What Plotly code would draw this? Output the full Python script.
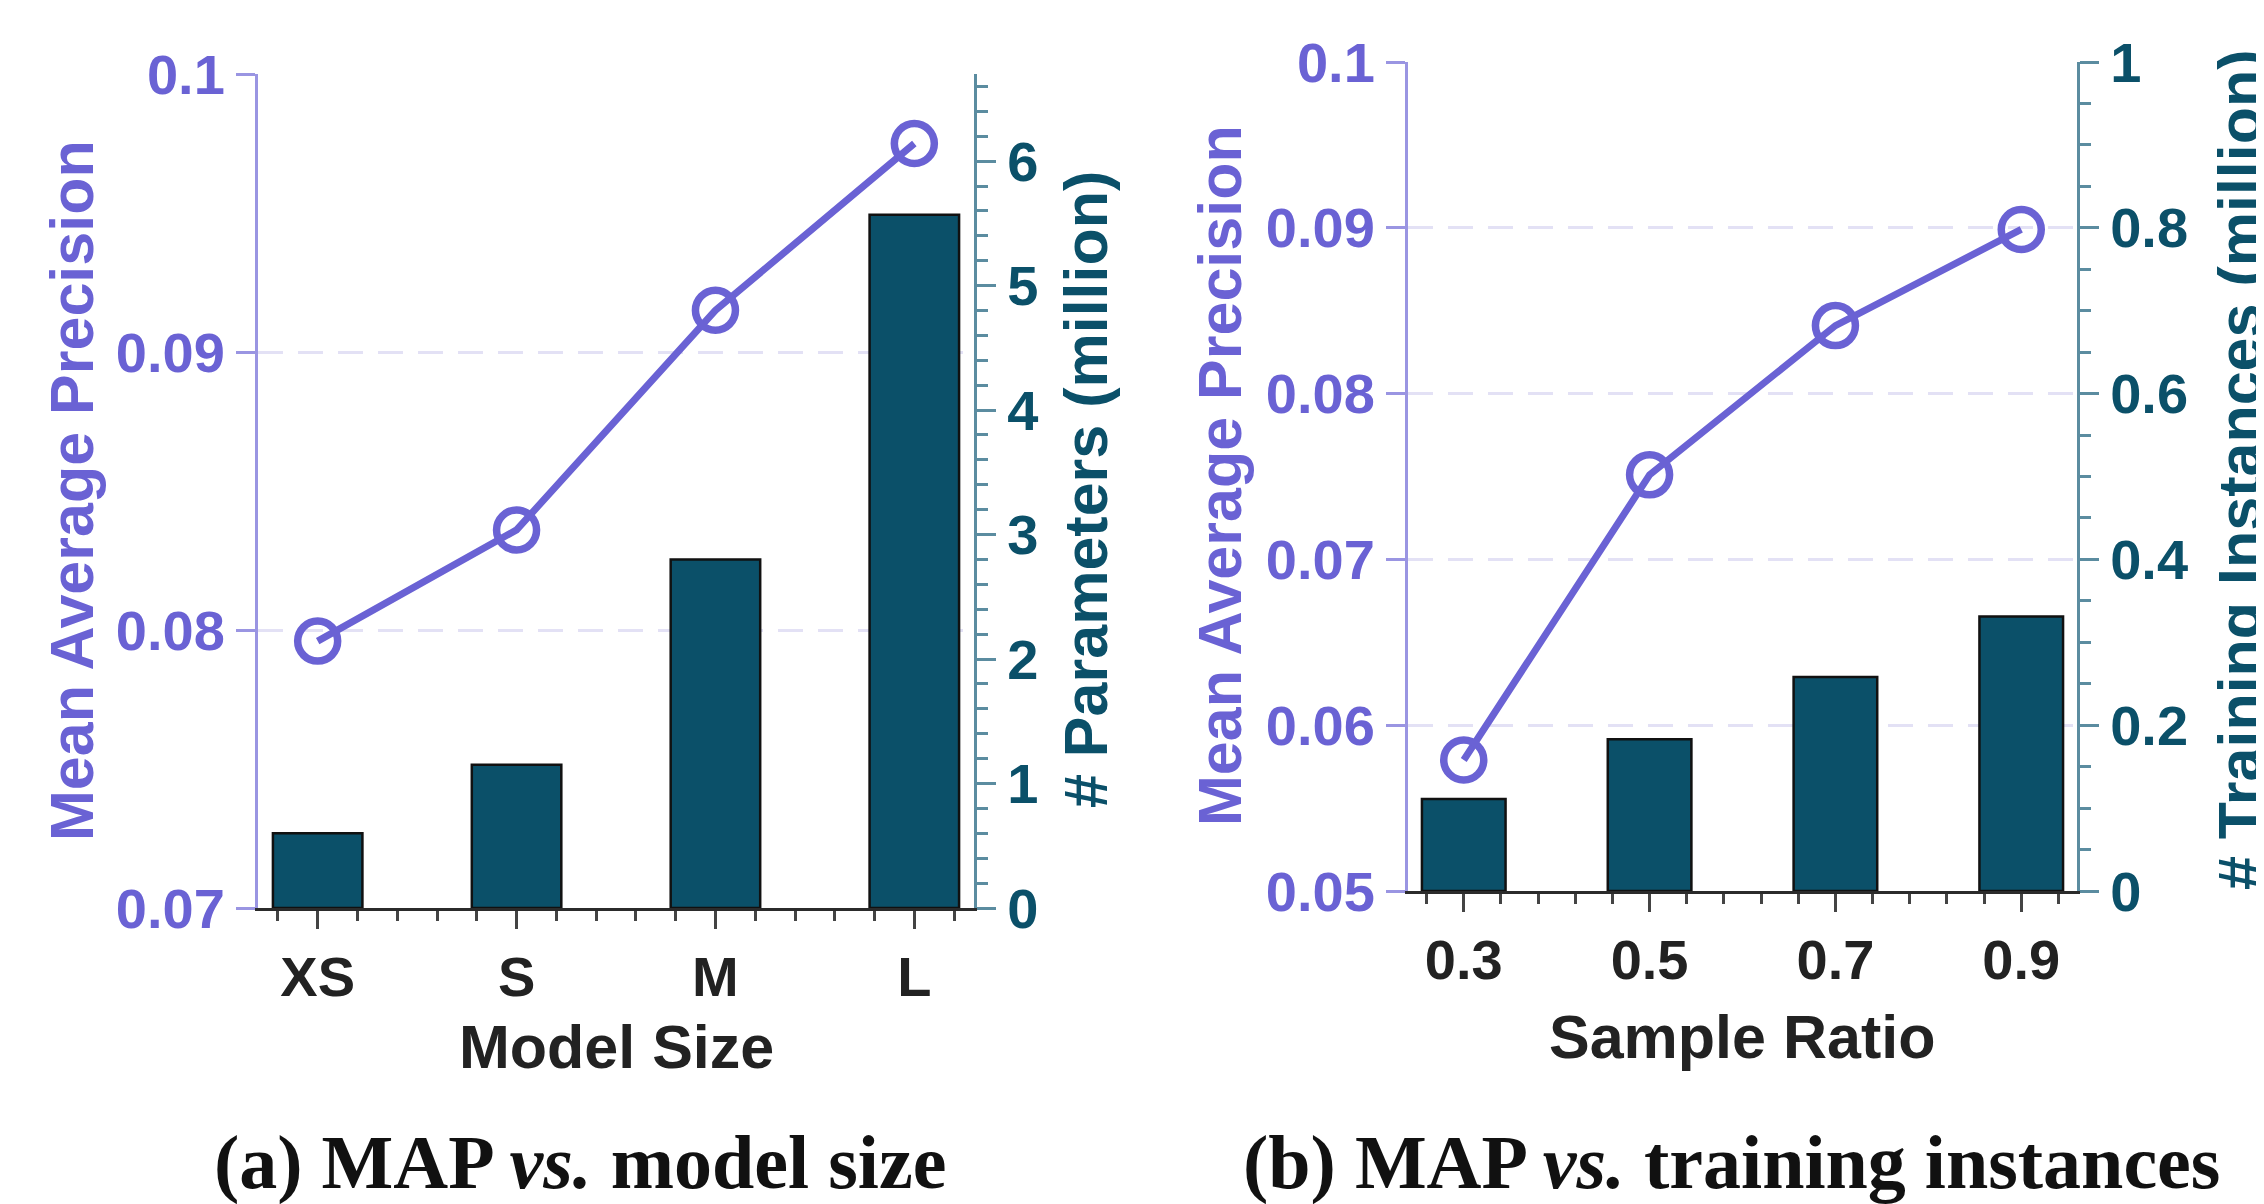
import plotly.graph_objects as go

# ---------------- data ----------------
size_cats = ["XS", "S", "M", "L"]
size_map = [0.0796, 0.0836, 0.0915, 0.0975]        # Mean Average Precision
size_params = [0.60, 1.15, 2.80, 5.57]             # # Parameters (million)

ratio_cats = ["0.3", "0.5", "0.7", "0.9"]
ratio_map = [0.0579, 0.0751, 0.0841, 0.0899]       # Mean Average Precision
ratio_inst = [0.111, 0.183, 0.258, 0.331]          # # Training Instances (million)

map_ticks_a = [0.07, 0.08, 0.09, 0.1]
map_ticks_b = [0.05, 0.06, 0.07, 0.08, 0.09, 0.1]
param_ticks = [0, 1, 2, 3, 4, 5, 6]
inst_ticks = [0, 0.2, 0.4, 0.6, 0.8, 1]

# ---------------- style ----------------
W, H = 2264, 1204
OFF = 8  # page body margin offset
PURPLE = "#6A62D4"
PURPLE_AX = "#9A95E2"
GRID = "#E3E1F5"
TEAL = "#0B5069"
TEAL_AX = "#5B8CA0"
DARK = "#222222"
SANS = "Liberation Sans, Arial, sans-serif"
SERIF = "Liberation Serif, Times New Roman, serif"
TICK_FS = 56
TITLE_FS = 61


def px(x):
    return (x - OFF) / W


def py(y):
    return 1 - (y - OFF) / H


idx_a = list(range(len(size_cats)))
idx_b = list(range(len(ratio_cats)))

LINE_STYLE = dict(color=PURPLE, width=7)
MARKER_STYLE = dict(symbol="circle-open", size=40, color=PURPLE,
                    line=dict(width=7.5, color=PURPLE))
BAR_STYLE = dict(color=TEAL, line=dict(color="#111111", width=2.5))

fig = go.Figure()

fig.add_trace(go.Bar(x=idx_a, y=size_params, width=0.45, xaxis="x", yaxis="y",
                     marker=BAR_STYLE, showlegend=False))
fig.add_trace(go.Scatter(x=idx_a, y=size_map, xaxis="x", yaxis="y2", mode="lines+markers",
                         line=LINE_STYLE, marker=MARKER_STYLE, showlegend=False))
fig.add_trace(go.Bar(x=idx_b, y=ratio_inst, width=0.45, xaxis="x2", yaxis="y3",
                     marker=BAR_STYLE, showlegend=False))
fig.add_trace(go.Scatter(x=idx_b, y=ratio_map, xaxis="x2", yaxis="y4", mode="lines+markers",
                         line=LINE_STYLE, marker=MARKER_STYLE, showlegend=False))


def xaxis_cfg(domain, anchor, cats):
    return dict(domain=domain, anchor=anchor, range=[-0.3, 3.3], automargin=False,
                tickmode="array", tickvals=list(range(len(cats))), ticktext=cats,
                ticks="outside", ticklen=18, tickwidth=3, tickcolor="#444444",
                showline=True, linecolor="#2b2b2b", linewidth=3,
                showgrid=False, zeroline=False,
                tickfont=dict(family=SANS, size=TICK_FS, color=DARK, weight="bold"),
                minor=dict(tickmode="linear", tick0=0, dtick=0.2, ticks="outside",
                           ticklen=10, tickwidth=2.5, tickcolor="#444444", showgrid=False))


def right_cfg(domain, anchor, rng, vals, mdt):
    return dict(domain=domain, anchor=anchor, side="right", range=rng, automargin=False,
                tickmode="array", tickvals=vals, ticktext=[f"{v:g}" for v in vals],
                ticks="outside", ticklen=19, tickwidth=3, tickcolor=TEAL_AX,
                showline=True, linecolor=TEAL_AX, linewidth=3,
                showgrid=False, zeroline=False,
                tickfont=dict(family=SANS, size=TICK_FS, color=TEAL, weight="bold"),
                minor=dict(tickmode="linear", tick0=0, dtick=mdt, ticks="outside",
                           ticklen=11, tickwidth=2.5, tickcolor=TEAL_AX, showgrid=False))


def left_cfg(over, anchor, rng, vals):
    return dict(overlaying=over, anchor=anchor, side="left", range=rng, automargin=False,
                tickmode="array", tickvals=vals, ticktext=[f"{v:g}" for v in vals],
                ticks="outside", ticklen=19, tickwidth=3, tickcolor=PURPLE_AX,
                showline=True, linecolor=PURPLE_AX, linewidth=3,
                showgrid=True, gridcolor=GRID, gridwidth=3, griddash="25px,15px",
                zeroline=False,
                tickfont=dict(family=SANS, size=TICK_FS, color=PURPLE, weight="bold"))


dom_a_x = [px(258), px(974)]
dom_a_y = [py(908), py(74)]
dom_b_x = [px(1408), px(2077)]
dom_b_y = [py(891), py(62)]

fig.update_layout(
    width=W, height=H,
    margin=dict(l=0, r=0, t=0, b=0, autoexpand=False),
    paper_bgcolor="white", plot_bgcolor="white",
    xaxis=xaxis_cfg(dom_a_x, "y", size_cats),
    yaxis=right_cfg(dom_a_y, "x", [0, 6.7], param_ticks, 0.2),
    yaxis2=left_cfg("y", "x", [0.07, 0.1], map_ticks_a),
    xaxis2=xaxis_cfg(dom_b_x, "y3", ratio_cats),
    yaxis3=right_cfg(dom_b_y, "x2", [0, 1], inst_ticks, 0.05),
    yaxis4=left_cfg("y3", "x2", [0.05, 0.1], map_ticks_b),
)


def title_ann(text, x, y, color, angle=0, size=TITLE_FS, family=SANS):
    return dict(text=text, x=px(x), y=py(y), xref="paper", yref="paper",
                xanchor="center", yanchor="middle", showarrow=False, textangle=angle,
                font=dict(family=family, size=size, color=color, weight="bold"))


fig.update_layout(annotations=[
    title_ann("Mean Average Precision", 72, 491, PURPLE, -90),
    title_ann("# Parameters (million)", 1086, 490, TEAL, -90),
    title_ann("Model Size", 616, 1047, DARK),
    title_ann("Mean Average Precision", 1220, 476, PURPLE, -90),
    title_ann("# Training Instances (million)", 2240, 470, TEAL, -90),
    title_ann("Sample Ratio", 1742, 1037, DARK),
    title_ann("(a) MAP <i>vs.</i> model size", 580, 1162, "#111111", 0, 76, SERIF),
    title_ann("(b) MAP <i>vs.</i> training instances", 1731, 1162, "#111111", 0, 76, SERIF),
])

fig.write_html("out.html")
